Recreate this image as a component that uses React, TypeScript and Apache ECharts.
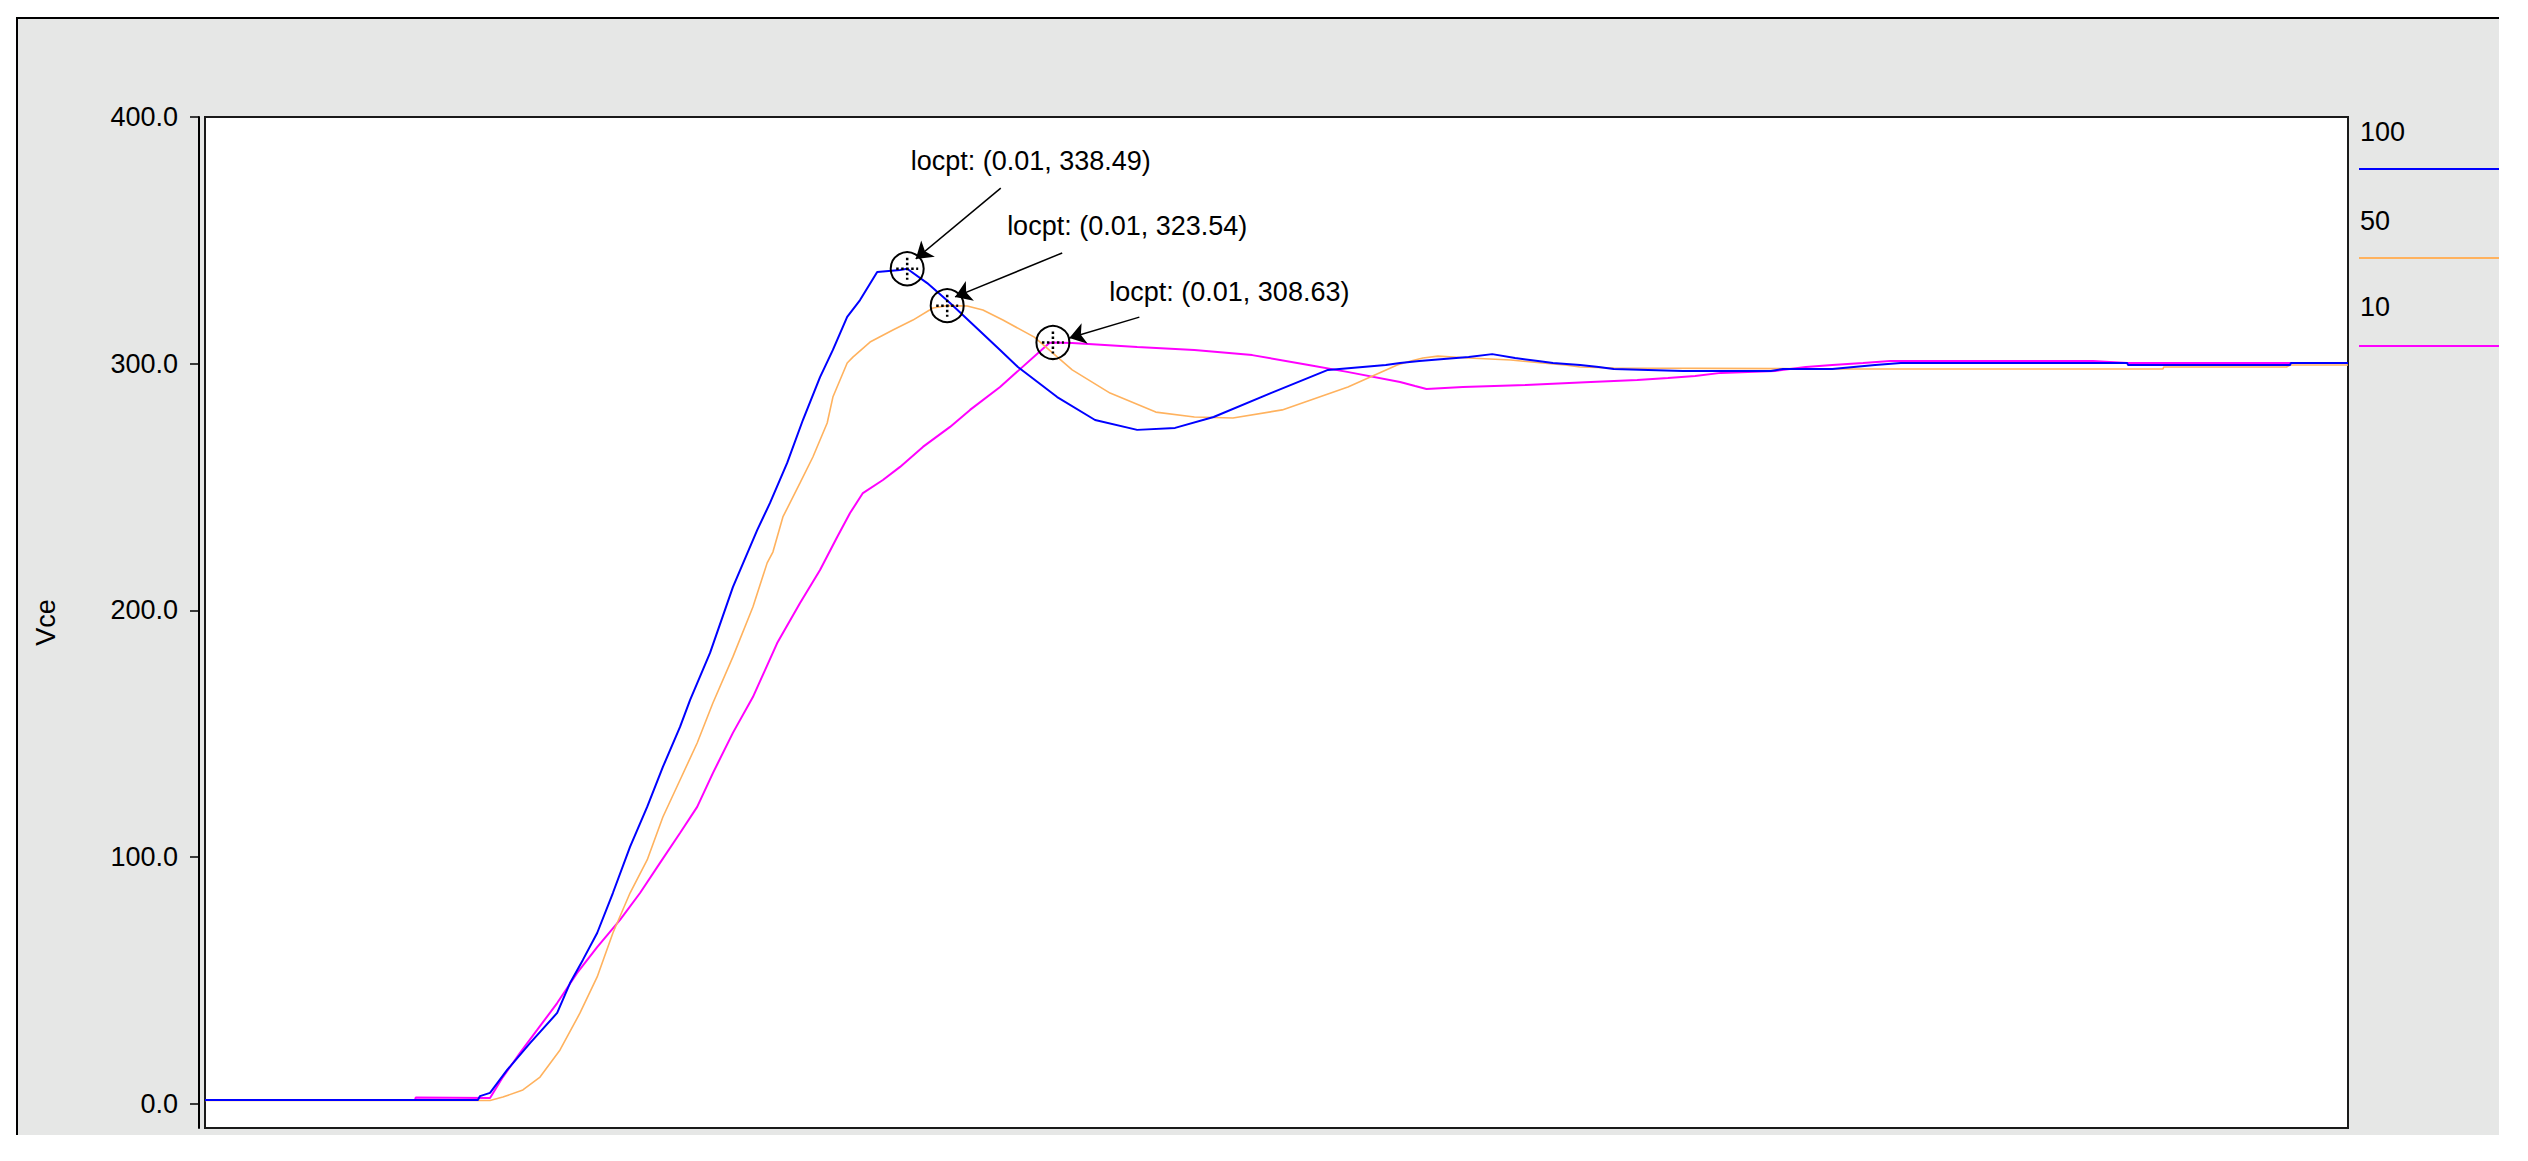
import React, { useEffect, useRef } from 'react';
import * as echarts from 'echarts';

// time in ms (x), Vce in volts (y)
const seriesNames = ['100', '50', '10'];
const seriesColors = ['#0000ff', '#ffb25e', '#ff00ff'];
const seriesWidths = [2, 1.6, 2];
const yTicks = [0, 100, 200, 300, 400];
const yMin = -9.73;
const yMax = 400;
const xMin = 0;
const xMax = 30;

const vce100: number[][] = [
  [0, 1.6], [3.82, 1.6], [3.85, 3.2], [3.99, 4.5], [4.23, 13.8], [4.55, 24.7], [4.93, 36.9], [5.11, 49.0],
  [5.29, 58.4], [5.49, 69.3], [5.71, 85.5], [5.95, 104.2], [6.19, 120.4], [6.41, 136.6], [6.65, 152.8],
  [6.79, 163.7], [7.07, 182.8], [7.39, 209.5], [7.73, 232.6], [7.91, 243.6], [8.15, 259.8], [8.37, 277.2],
  [8.61, 294.6], [8.79, 305.6], [8.99, 319.0], [9.17, 325.8], [9.41, 337.2], [9.73, 338.0], [9.83, 338.49],
  [10.11, 332.7], [10.43, 324.6], [11.13, 305.6], [11.38, 298.7], [11.93, 286.5], [12.46, 277.2],
  [13.05, 273.2], [13.58, 274.0], [14.12, 278.4], [14.92, 288.1], [15.72, 297.5], [16.53, 299.5],
  [16.73, 300.3], [17.0, 301.1], [17.34, 301.9], [17.69, 302.7], [18.02, 303.9], [18.34, 302.3],
  [18.66, 301.1], [18.87, 300.3], [19.25, 299.5], [19.51, 298.7], [19.72, 297.9], [20.69, 297.1],
  [21.92, 297.1], [22.09, 297.9], [22.78, 297.9], [23.38, 299.5], [23.74, 300.3], [26.91, 300.3],
  [26.92, 299.5], [29.19, 299.5], [29.2, 300.3], [30, 300.3],
];

const vce50: number[][] = [
  [0, 1.4], [3.99, 1.4], [4.17, 2.8], [4.45, 5.7], [4.69, 10.9], [4.97, 21.9], [5.25, 36.9], [5.49, 51.5],
  [5.71, 69.3], [5.95, 85.5], [6.19, 98.9], [6.41, 116.3], [6.65, 131.3], [6.89, 146.3], [7.11, 162.5],
  [7.39, 181.2], [7.67, 201.4], [7.87, 219.3], [7.95, 223.7], [8.09, 237.9], [8.33, 251.7], [8.51, 262.2],
  [8.71, 276.0], [8.79, 286.5], [8.99, 300.3], [9.07, 302.7], [9.31, 308.8], [9.63, 313.7], [9.91, 317.7],
  [10.19, 322.6], [10.39, 323.54], [10.67, 323.4], [10.89, 321.8], [11.17, 317.7], [11.61, 310.8],
  [12.14, 297.5], [12.67, 288.1], [13.31, 280.4], [13.85, 278.4], [14.39, 278.0], [15.08, 281.3],
  [16.0, 290.6], [16.69, 299.5], [16.88, 301.1], [17.05, 302.3], [17.26, 303.1], [17.69, 302.3],
  [18.28, 301.5], [18.72, 300.3], [19.04, 299.5], [19.25, 298.7], [19.72, 298.3], [22.89, 297.9],
  [27.41, 297.9], [27.42, 298.7], [29.14, 298.7], [29.19, 299.5], [30, 299.5],
];

const vce10: number[][] = [
  [0, 1.6], [2.94, 1.6], [2.95, 2.6], [3.99, 2.4], [4.17, 10.9], [4.41, 20.7], [4.65, 30.0], [4.93, 40.9],
  [5.21, 53.1], [5.49, 63.6], [5.81, 74.6], [6.09, 85.5], [6.37, 97.7], [6.65, 109.8], [6.89, 120.4],
  [7.11, 134.1], [7.39, 150.4], [7.67, 164.9], [8.01, 186.8], [8.33, 203.0], [8.61, 216.4], [8.85, 229.8],
  [9.03, 239.5], [9.21, 247.6], [9.49, 252.9], [9.73, 258.2], [10.05, 266.3], [10.43, 274.4],
  [10.71, 281.3], [11.13, 290.6], [11.82, 308.4], [11.87, 308.63], [12.14, 308.4], [13.05, 306.8],
  [13.85, 305.6], [14.66, 303.5], [15.45, 299.5], [15.99, 296.7], [16.73, 292.6], [16.94, 291.0],
  [17.1, 289.8], [17.61, 290.6], [18.49, 291.4], [19.4, 292.6], [20.05, 293.4], [20.48, 294.2],
  [20.86, 295.0], [21.22, 296.3], [21.98, 297.1], [22.41, 298.7], [22.78, 299.5], [23.21, 300.3],
  [23.59, 301.1], [26.43, 301.1], [26.91, 300.3], [30, 300.3],
];

const seriesData = [vce100, vce50, vce10];

// annotation: label centre, arrow start, arrow tip, marked point
const annotationTexts = ['locpt: (0.01, 338.49)', 'locpt: (0.01, 323.54)', 'locpt: (0.01, 308.63)'];
const annotationLabelAt = [[11.56, 382.2], [12.91, 355.8], [14.34, 329.1]];
const annotationArrowFrom = [[11.14, 371.2], [12.0, 344.9], [13.08, 318.9]];
const annotationArrowTo = [[9.95, 342.5], [10.5, 327.1], [12.1, 310.4]];
const annotationPoints = [[9.83, 338.49], [10.39, 323.54], [11.87, 308.63]];

const FONT = '"Liberation Sans", Arial, sans-serif';
const FS = 27;

export default function App() {
  const ref = useRef<HTMLDivElement>(null);

  useEffect(() => {
    const chart = echarts.init(ref.current!, null, { renderer: 'svg' });

    const series = seriesNames.map((name, i) => ({
      name,
      type: 'line',
      data: seriesData[i],
      showSymbol: false,
      symbol: 'none',
      z: 2 + (2 - i),
      lineStyle: { color: seriesColors[i], width: seriesWidths[i] },
      itemStyle: { color: seriesColors[i] },
      markLine: {
        silent: true,
        symbol: ['none', 'arrow'],
        symbolSize: 16,
        label: { show: false },
        lineStyle: { color: '#000', width: 1.5, type: 'solid' },
        itemStyle: { color: '#000' },
        data: [
          [
            { coord: annotationArrowFrom[i], symbol: 'none' },
            { coord: annotationArrowTo[i], symbol: 'arrow', symbolSize: 16, itemStyle: { color: '#000' } },
          ],
        ],
        z: 10,
      },
      markPoint: {
        silent: true,
        z: 10,
        data: [
          {
            coord: annotationLabelAt[i],
            symbol: 'rect',
            symbolSize: 1,
            itemStyle: { color: 'rgba(0,0,0,0)' },
            label: {
              show: true,
              position: 'inside',
              formatter: annotationTexts[i],
              color: '#000',
              fontSize: FS,
              fontFamily: FONT,
            },
          },
          {
            coord: annotationPoints[i],
            symbol: 'circle',
            symbolSize: 33,
            itemStyle: { color: 'rgba(0,0,0,0)', borderColor: '#000', borderWidth: 2 },
            label: { show: false },
          },
          {
            coord: annotationPoints[i],
            symbol: 'path://M10,0L10,20M0,10L20,10',
            symbolSize: 22,
            itemStyle: { color: 'rgba(0,0,0,0)', borderColor: '#000', borderWidth: 2.5, borderType: 'dotted' },
            label: { show: false },
          },
        ],
      },
    }));

    const legendY = [132, 221, 307];
    const legendLineY = [169, 258, 346];
    const legendGraphics: any[] = [];
    seriesNames.forEach((name, i) => {
      legendGraphics.push({
        type: 'text',
        x: 2360,
        y: legendY[i],
        style: { text: name, fill: '#000', font: `${FS}px ${FONT}`, verticalAlign: 'middle', align: 'left' },
      });
      legendGraphics.push({
        type: 'line',
        shape: { x1: 2359, y1: legendLineY[i], x2: 2499, y2: legendLineY[i] },
        style: { stroke: seriesColors[i], lineWidth: 2 },
      });
    });

    const option: any = {
      animation: false,
      backgroundColor: '#ffffff',
      graphic: [
        {
          type: 'rect',
          z: -100,
          shape: { x: 17, y: 18, width: 2482, height: 1117 },
          style: { fill: '#e6e7e6' },
        },
        {
          type: 'polyline',
          z: -99,
          shape: { points: [[17, 1135], [17, 18], [2499, 18]] },
          style: { stroke: '#000', lineWidth: 2, fill: null },
        },
        ...legendGraphics,
      ],
      grid: {
        show: true,
        left: 205,
        top: 117,
        right: 180,
        bottom: 33,
        backgroundColor: '#ffffff',
        borderColor: '#1a1a1a',
        borderWidth: 2,
        containLabel: false,
      },
      xAxis: {
        type: 'value',
        min: xMin,
        max: xMax,
        show: false,
        splitLine: { show: false },
      },
      yAxis: {
        type: 'value',
        min: yMin,
        max: yMax,
        offset: 6,
        position: 'left',
        name: 'Vce',
        nameLocation: 'middle',
        nameGap: 140,
        nameTextStyle: { color: '#000', fontSize: FS, fontFamily: FONT },
        axisLine: { show: true, onZero: false, lineStyle: { color: '#000', width: 2 } },
        axisTick: { show: true, length: 9, customValues: yTicks, lineStyle: { color: '#000', width: 1.5 } },
        axisLabel: {
          show: true,
          margin: 21,
          customValues: yTicks,
          formatter: (v: number) => v.toFixed(1),
          color: '#000',
          fontSize: FS,
          fontFamily: FONT,
        },
        splitLine: { show: false },
      },
      series,
    };

    chart.setOption(option);
    return () => chart.dispose();
  }, []);

  return (
    <div
      ref={ref}
      style={{ position: 'absolute', left: 0, top: 0, width: 2528, height: 1161 }}
    />
  );
}
